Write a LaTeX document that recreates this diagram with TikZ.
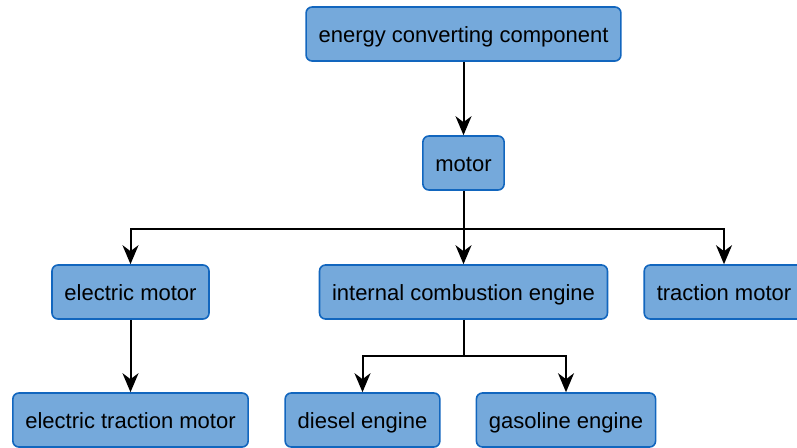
\documentclass[tikz,border=0pt]{standalone}
\usepackage{fontspec}
\setmainfont{Liberation Sans}
\usetikzlibrary{arrows.meta}
\definecolor{boxfill}{RGB}{117,169,219}
\definecolor{boxline}{RGB}{18,102,190}

\begin{document}
\begin{tikzpicture}[x=1pt,y=-1pt,
  box/.style={draw=boxline,fill=boxfill,line width=1.6pt,rounded corners=6pt,
    minimum height=54pt,inner xsep=12.5pt,text height=21pt,text depth=4pt,
    font=\fontsize{22}{25}\selectfont},
  link/.style={draw=black,line width=2pt,-{Stealth[length=19pt,width=16pt,inset=6pt]}}]
\useasboundingbox (0,0) rectangle (797,447);
\clip (0,0) rectangle (797,447);
% nodes
\node[box] (ecc) at (463.5,34) {energy converting component};
\node[box] (motor) at (463.5,163) {motor};
\node[box] (emotor) at (130.5,292) {electric motor};
\node[box] (ice) at (463.5,292) {internal combustion engine};
\node[box] (tmotor) at (724,292) {traction motor};
\node[box] (etmotor) at (130.5,420) {electric traction motor};
\node[box] (diesel) at (362.5,420) {diesel engine};
\node[box] (gasoline) at (566,420) {gasoline engine};
% branch points
\coordinate (split1) at (463.5,229);
\coordinate (split2) at (463.5,356);
% connectors
\draw[link] (ecc) -- (motor);
\draw[link] (motor) -- (ice);
\draw[link] (split1) -| (emotor);
\draw[link] (split1) -| (tmotor);
\draw[link] (emotor) -- (etmotor);
\draw[line width=2pt] (ice) -- (split2);
\draw[link] (split2) -| (diesel);
\draw[link] (split2) -| (gasoline);
\end{tikzpicture}
\end{document}
